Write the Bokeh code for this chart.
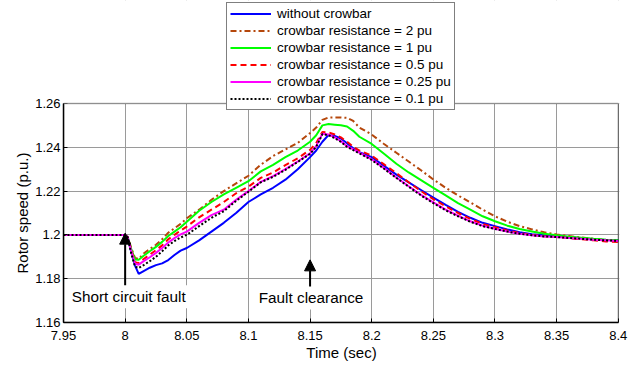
from bokeh.plotting import figure
from bokeh.models import (Range1d, Legend, LegendItem, FixedTicker, BoxAnnotation,
                          Arrow, NormalHead, Label, ColumnDataSource, Title)
from bokeh.embed import file_html
from bokeh.resources import INLINE

# ---------------- data ----------------
t = [7.95, 8.0, 8.002, 8.005, 8.008, 8.011, 8.015, 8.02, 8.025, 8.03, 8.035,
     8.04, 8.045, 8.05, 8.06, 8.07, 8.08, 8.09, 8.1, 8.11, 8.12, 8.13, 8.14,
     8.15, 8.155, 8.16, 8.165, 8.17, 8.175, 8.18, 8.185, 8.19, 8.2,
     8.21, 8.22, 8.23, 8.24, 8.25, 8.26, 8.27, 8.28, 8.29, 8.3, 8.31, 8.32,
     8.33, 8.34, 8.35, 8.36, 8.37, 8.38, 8.39, 8.4]

without_crowbar = [1.2000, 1.2000, 1.1990, 1.1920, 1.1860, 1.1822, 1.1835, 1.1850, 1.1862, 1.1870, 1.1885,
                   1.1908, 1.1928, 1.1940, 1.1975, 1.2015, 1.2055, 1.2100, 1.2150, 1.2185, 1.2215, 1.2252,
                   1.2300, 1.2355, 1.2385, 1.2425, 1.2456, 1.2452, 1.2440, 1.2418, 1.2395, 1.2378, 1.2355,
                   1.2315, 1.2275, 1.2240, 1.2205, 1.2170, 1.2137, 1.2105, 1.2078, 1.2055, 1.2040,
                   1.2025, 1.2012, 1.2003, 1.1998, 1.1994, 1.1990, 1.1985, 1.1980, 1.1977, 1.1975]
r_2pu = [1.2000, 1.2000, 1.1990, 1.1940, 1.1895, 1.1890, 1.1915, 1.1935, 1.1955, 1.1980, 1.2010,
         1.2030, 1.2050, 1.2076, 1.2115, 1.2160, 1.2200, 1.2235, 1.2270, 1.2320, 1.2360, 1.2390,
         1.2420, 1.2465, 1.2490, 1.2525, 1.2536, 1.2536, 1.2536, 1.2534, 1.2520, 1.2490, 1.2458,
         1.2415, 1.2375, 1.2335, 1.2295, 1.2253, 1.2215, 1.2180, 1.2148, 1.2115, 1.2085,
         1.2060, 1.2040, 1.2025, 1.2012, 1.2002, 1.1995, 1.1988, 1.1982, 1.1977, 1.1973]
r_1pu = [1.2000, 1.2000, 1.1990, 1.1935, 1.1888, 1.1886, 1.1905, 1.1925, 1.1945, 1.1968, 1.1995,
         1.2015, 1.2035, 1.2060, 1.2110, 1.2150, 1.2185, 1.2215, 1.2245, 1.2290, 1.2320, 1.2355,
         1.2385, 1.2425, 1.2455, 1.2500, 1.2506, 1.2503, 1.2500, 1.2495, 1.2475, 1.2448, 1.2415,
         1.2370, 1.2325, 1.2285, 1.2250, 1.2215, 1.2180, 1.2145, 1.2115, 1.2085, 1.2062,
         1.2042, 1.2027, 1.2015, 1.2005, 1.1998, 1.1992, 1.1987, 1.1982, 1.1978, 1.1975]
r_05pu = [1.2000, 1.2000, 1.1990, 1.1930, 1.1875, 1.1871, 1.1890, 1.1910, 1.1930, 1.1952, 1.1980,
          1.2000, 1.2020, 1.2038, 1.2080, 1.2115, 1.2150, 1.2190, 1.2220, 1.2260, 1.2285, 1.2318,
          1.2350, 1.2388, 1.2420, 1.2470, 1.2468, 1.2458, 1.2445, 1.2425, 1.2402, 1.2385, 1.2362,
          1.2322, 1.2282, 1.2240, 1.2200, 1.2163, 1.2130, 1.2100, 1.2073, 1.2050, 1.2035,
          1.2020, 1.2008, 1.2000, 1.1994, 1.1990, 1.1985, 1.1980, 1.1975, 1.1970, 1.1968]
r_025pu = [1.2000, 1.2000, 1.1990, 1.1925, 1.1868, 1.1864, 1.1880, 1.1898, 1.1918, 1.1940, 1.1965,
           1.1985, 1.2002, 1.2015, 1.2055, 1.2090, 1.2115, 1.2160, 1.2200, 1.2242, 1.2268, 1.2300,
           1.2335, 1.2372, 1.2405, 1.2462, 1.2458, 1.2445, 1.2428, 1.2405, 1.2390, 1.2375, 1.2345,
           1.2305, 1.2262, 1.2222, 1.2183, 1.2148, 1.2115, 1.2088, 1.2062, 1.2042, 1.2028,
           1.2015, 1.2005, 1.1998, 1.1993, 1.1990, 1.1986, 1.1982, 1.1978, 1.1975, 1.1972]
r_01pu = [1.2000, 1.2000, 1.1990, 1.1915, 1.1855, 1.1849, 1.1862, 1.1880, 1.1900, 1.1925, 1.1952,
          1.1972, 1.1988, 1.2000, 1.2040, 1.2078, 1.2108, 1.2155, 1.2197, 1.2240, 1.2265, 1.2297,
          1.2333, 1.2370, 1.2402, 1.2460, 1.2455, 1.2442, 1.2425, 1.2402, 1.2387, 1.2372, 1.2342,
          1.2302, 1.2260, 1.2220, 1.2180, 1.2145, 1.2112, 1.2085, 1.2060, 1.2040, 1.2027,
          1.2015, 1.2005, 1.1998, 1.1993, 1.1990, 1.1986, 1.1982, 1.1978, 1.1975, 1.1973]

series_names = ["without crowbar", "crowbar resistance = 2 pu", "crowbar resistance = 1 pu",
                "crowbar resistance = 0.5 pu", "crowbar resistance = 0.25 pu",
                "crowbar resistance = 0.1 pu"]

x_ticks = [7.95, 8.0, 8.05, 8.1, 8.15, 8.2, 8.25, 8.3, 8.35, 8.4]
x_tick_labels = ["7.95", "8", "8.05", "8.1", "8.15", "8.2", "8.25", "8.3", "8.35", "8.4"]
y_ticks = [1.16, 1.18, 1.2, 1.22, 1.24, 1.26]
y_tick_labels = ["1.16", "1.18", "1.2", "1.22", "1.24", "1.26"]

arrow_x = [8.0, 8.15]
arrow_y_start = [1.1758, 1.1760]
arrow_y_end = [1.2008, 1.1886]
note_text = ["Short circuit fault", "Fault clearance"]
note_x = [7.9543, 8.1508]
note_y = [1.1717, 1.1712]
note_align = ["left", "center"]

# ---------------- figure ----------------
# The frame reaches the top of the canvas so that the legend (which overlaps the
# top of the axes box, as in the original) is not clipped; the part above 1.26 is
# blanked and the axes box is drawn explicitly.
FONT = "Liberation Sans"
X0, X1 = x_ticks[0], x_ticks[-1]
Y0, Y1 = y_ticks[0], y_ticks[-1]
p = figure(width=636, height=367, output_backend="svg", toolbar_location=None,
           x_range=Range1d(X0, 8.401), y_range=Range1d(Y0, 1.307),
           min_border_left=63, min_border_right=17, min_border_top=0, min_border_bottom=45)
p.background_fill_color = "white"
p.border_fill_color = "white"
p.outline_line_color = None

for ax, ticks, labels, bnds in ((p.xaxis[0], x_ticks, x_tick_labels, (X0, X1)),
                                (p.yaxis[0], y_ticks, y_tick_labels, (Y0, Y1))):
    ax.ticker = FixedTicker(ticks=ticks)
    ax.bounds = bnds
    ax.major_label_overrides = {tv: tl for tv, tl in zip(ticks, labels)}
    ax.major_tick_in = 4
    ax.major_tick_out = 0
    ax.minor_tick_in = 0
    ax.minor_tick_out = 0
    ax.axis_line_color = "black"
    ax.axis_line_width = 1.5
    ax.major_tick_line_color = "black"
    ax.major_label_text_font = FONT
    ax.major_label_text_font_size = "13px"
    ax.major_label_text_color = "black"
    ax.axis_label_text_font = FONT
    ax.axis_label_text_font_size = "15px"
    ax.axis_label_text_font_style = "normal"
    ax.axis_label_text_color = "black"

p.xaxis[0].axis_label = "Time (sec)"
p.xaxis[0].major_label_standoff = 8
p.xaxis[0].axis_label_standoff = 1
p.yaxis[0].major_label_standoff = 3

# y-axis title, placed so that it is centred on the 1.16 - 1.26 box
p.add_layout(Title(text="Rotor speed (p.u.)", align="left", offset=49, standoff=4,
                   text_font=FONT, text_font_size="15px", text_font_style="normal",
                   text_color="black"), "left")

p.xgrid.ticker = FixedTicker(ticks=x_ticks)
p.ygrid.ticker = FixedTicker(ticks=y_ticks)
for g in (p.xgrid[0], p.ygrid[0]):
    g.grid_line_color = "#9a9a9a"
    g.grid_line_width = 1

# ---------------- curves ----------------
styles = [
    (without_crowbar, "#0000ff", "solid"),
    (r_2pu, "#b5470b", "6 3 2 3"),
    (r_1pu, "#00ff00", "solid"),
    (r_05pu, "#ff0000", "6 4"),
    (r_025pu, "#ff00ff", "solid"),
    (r_01pu, "#000000", "2 2"),
]
items = []
for name, (vals, col, dash) in zip(series_names, styles):
    r = p.line(t, vals, line_color=col, line_width=2, line_dash=dash)
    items.append(LegendItem(label=name, renderers=[r]))

# blank area above the axes box, then the axes box itself
p.add_layout(BoxAnnotation(bottom=Y1, fill_color="white", fill_alpha=1.0, line_color=None))
p.add_layout(BoxAnnotation(left=X0, right=X1, bottom=Y0, top=Y1, fill_alpha=0.0,
                           line_color="black", line_width=1.5))

# ---------------- annotations ----------------
head_src = ColumnDataSource(dict(x0=arrow_x, y0=arrow_y_start, x1=arrow_x, y1=arrow_y_end))
p.add_layout(Arrow(end=NormalHead(size=11, fill_color="black", line_color="black"),
                   x_start="x0", y_start="y0", x_end="x1", y_end="y1",
                   line_width=2, line_color="black", source=head_src))

for txt, xx, yy, al in zip(note_text, note_x, note_y, note_align):
    p.add_layout(Label(x=xx, y=yy, text=txt, text_align=al, text_baseline="middle",
                       text_font=FONT, text_font_size="15.3px", text_color="black",
                       background_fill_color="white", padding=3))

legend = Legend(items=items, location=(163, 212), padding=3, spacing=2,
                glyph_width=41, glyph_height=15, label_height=15, label_standoff=6,
                label_text_font=FONT, label_text_font_size="13.5px", label_text_color="black",
                border_line_color="black", border_line_width=1,
                background_fill_color="white", background_fill_alpha=1.0, margin=0)
p.add_layout(legend, "center")

open("out.html", "w").write(file_html(p, INLINE))
